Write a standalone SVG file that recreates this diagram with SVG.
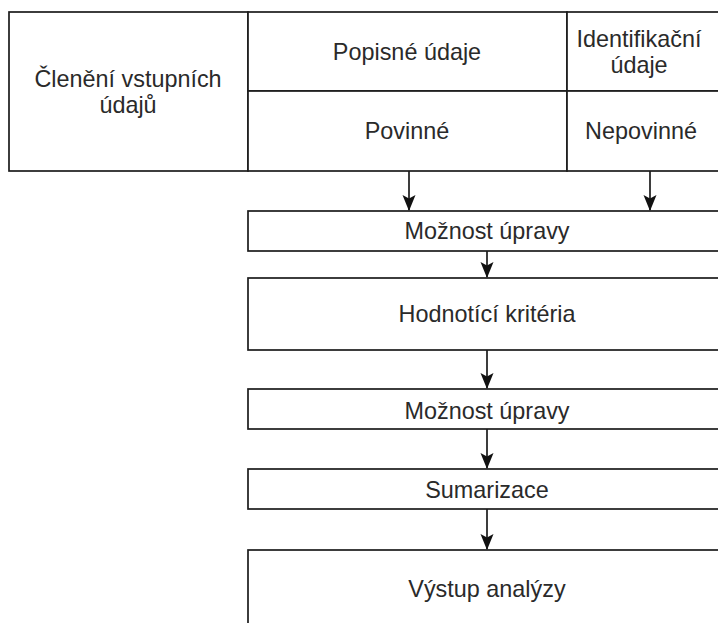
<svg xmlns="http://www.w3.org/2000/svg" width="718" height="623" viewBox="0 0 718 623">
  <defs>
    <style>
      .box { fill: #ffffff; stroke: #1c1c1c; stroke-width: 1.7; }
      .edge { fill: none; stroke: #1c1c1c; stroke-width: 1.7; }
      .lbl { font-family: "Liberation Sans", Arial, Helvetica, sans-serif; font-size: 23.4px; fill: #2a2a2a; text-anchor: middle; }
    </style>
    <marker id="arrow" viewBox="0 0 16 14" refX="15" refY="7" markerWidth="16" markerHeight="14" markerUnits="userSpaceOnUse" orient="auto">
      <path d="M0,0.5 L16,7 L0,13.5 L3.5,7 Z" fill="#111111"/>
    </marker>
  </defs>
  <rect x="0" y="0" width="718" height="623" fill="#ffffff"/>

  <!-- input breakdown table -->
  <g id="cleneni">
    <rect class="box" x="9" y="12" width="239" height="159"/>
    <text class="lbl" x="128" y="87">Členění vstupních</text>
    <text class="lbl" x="128" y="113">údajů</text>
  </g>
  <g id="popisne">
    <rect class="box" x="248" y="12" width="319" height="79"/>
    <text class="lbl" x="407" y="60">Popisné údaje</text>
  </g>
  <g id="identifikacni">
    <rect class="box" x="567" y="12" width="170" height="79"/>
    <text class="lbl" x="639" y="47">Identifikační</text>
    <text class="lbl" x="639" y="73">údaje</text>
  </g>
  <g id="povinne">
    <rect class="box" x="248" y="91" width="319" height="80"/>
    <text class="lbl" x="407" y="139">Povinné</text>
  </g>
  <g id="nepovinne">
    <rect class="box" x="567" y="91" width="170" height="80"/>
    <text class="lbl" x="641" y="139">Nepovinné</text>
  </g>

  <!-- process steps -->
  <g id="uprava1">
    <rect class="box" x="248" y="211" width="490" height="40"/>
    <text class="lbl" x="487" y="239">Možnost úpravy</text>
  </g>
  <g id="kriteria">
    <rect class="box" x="248" y="278" width="490" height="72"/>
    <text class="lbl" x="487" y="322">Hodnotící kritéria</text>
  </g>
  <g id="uprava2">
    <rect class="box" x="248" y="389" width="490" height="40"/>
    <text class="lbl" x="487" y="419">Možnost úpravy</text>
  </g>
  <g id="sumarizace">
    <rect class="box" x="248" y="469" width="490" height="40"/>
    <text class="lbl" x="487" y="498">Sumarizace</text>
  </g>
  <g id="vystup">
    <rect class="box" x="248" y="550" width="490" height="90"/>
    <text class="lbl" x="487" y="597">Výstup analýzy</text>
  </g>

  <!-- connectors -->
  <g id="connectors">
    <line class="edge" x1="409" y1="171" x2="409" y2="210" marker-end="url(#arrow)"/>
    <line class="edge" x1="650" y1="171" x2="650" y2="210" marker-end="url(#arrow)"/>
    <line class="edge" x1="487" y1="251" x2="487" y2="277" marker-end="url(#arrow)"/>
    <line class="edge" x1="487" y1="350" x2="487" y2="388" marker-end="url(#arrow)"/>
    <line class="edge" x1="487" y1="429" x2="487" y2="468" marker-end="url(#arrow)"/>
    <line class="edge" x1="487" y1="509" x2="487" y2="549" marker-end="url(#arrow)"/>
  </g>
</svg>
